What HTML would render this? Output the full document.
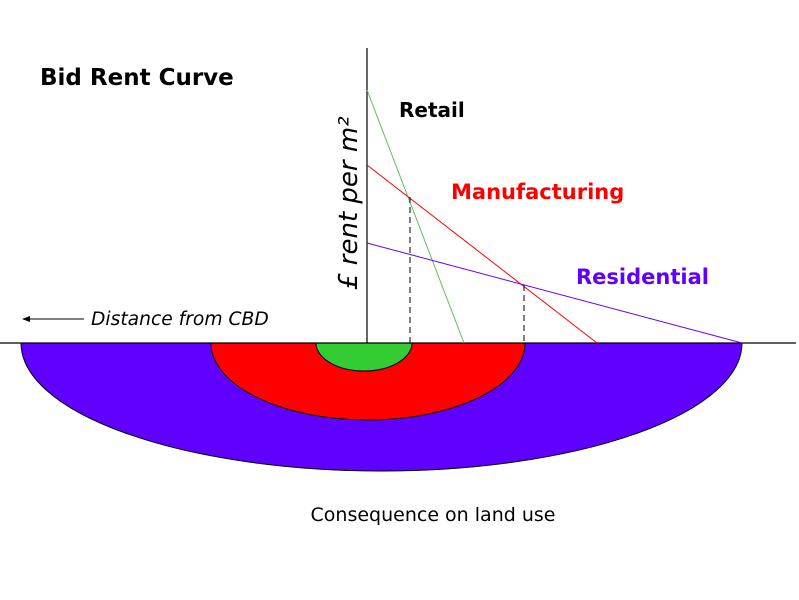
<!DOCTYPE html>
<html><head><meta charset="utf-8"><style>
html,body{margin:0;padding:0;background:#fff;}
svg{display:block;}
text{font-family:"DejaVu Sans","Liberation Sans",sans-serif;}
</style></head><body>
<svg width="799" height="600" viewBox="0 0 799 600" xmlns="http://www.w3.org/2000/svg">
<rect width="799" height="600" fill="#fff"/>
<path d="M21,343 A360.5,128 0 0 0 742,343 Z" fill="#6000ff" stroke="#000" stroke-width="1"/>
<path d="M211,343 A157,77 0 0 0 525,343 Z" fill="#ff0000" stroke="#000" stroke-width="1"/>
<path d="M316,343 A48,28 0 0 0 412,343 Z" fill="#33cc33" stroke="#000" stroke-width="1"/>
<line x1="367" y1="48" x2="367" y2="343" stroke="#000" stroke-width="1.2"/>
<line x1="0" y1="343" x2="796" y2="343" stroke="#000" stroke-width="1.2"/>
<line x1="367" y1="90" x2="464" y2="343" stroke="#5cbf5c" stroke-width="1"/>
<line x1="367" y1="165" x2="597" y2="343" stroke="#ff0000" stroke-width="1"/>
<line x1="367" y1="243" x2="742" y2="343" stroke="#6000ff" stroke-width="1"/>
<line x1="410" y1="197" x2="410" y2="343" stroke="#000" stroke-dasharray="6,4"/>
<line x1="524" y1="285" x2="524" y2="343" stroke="#000" stroke-dasharray="6,4"/>
<line x1="84" y1="319" x2="26" y2="319" stroke="#000" stroke-width="1"/>
<path d="M22,319 L30,316 L30,322 Z" fill="#000"/>
<text x="40" y="85" font-size="23" font-weight="bold">Bid Rent Curve</text>
<text x="399" y="117" font-size="20" font-weight="bold">Retail</text>
<text x="451" y="199" font-size="21" font-weight="bold" fill="#ff0000">Manufacturing</text>
<text x="576" y="284" font-size="21" font-weight="bold" fill="#6000ff">Residential</text>
<text x="91" y="325" font-size="18.7" font-style="italic">Distance from CBD</text>
<text transform="translate(357,290) rotate(-90)" font-size="26" font-style="italic">£ rent per m²</text>
<text x="433" y="521" font-size="19" text-anchor="middle">Consequence on land use</text>
</svg>
</body></html>
